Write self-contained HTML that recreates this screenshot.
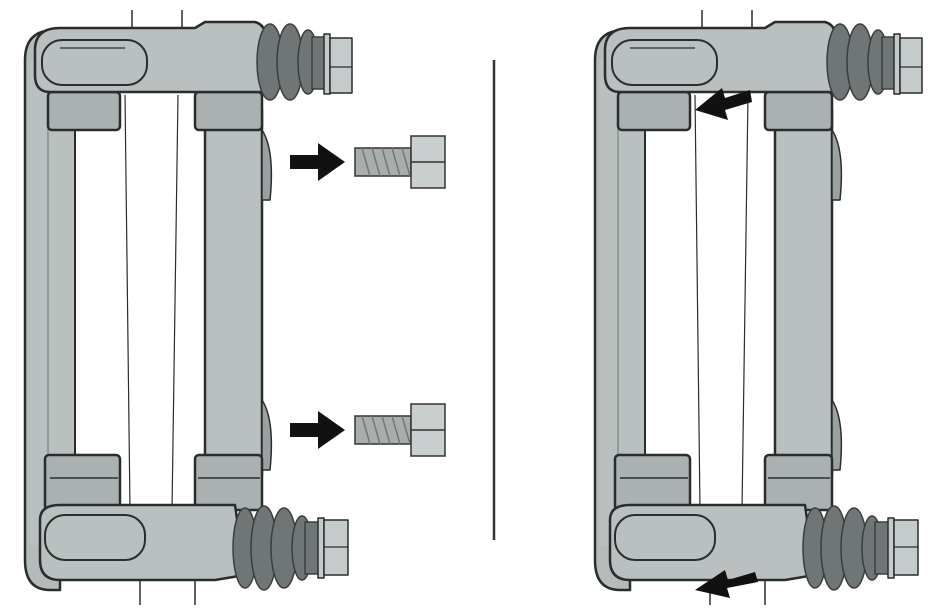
<!DOCTYPE html><html><head><style>body{margin:0;background:#fff}svg{display:block}</style></head><body>
<svg width="936" height="612" viewBox="0 0 936 612" xmlns="http://www.w3.org/2000/svg">
<defs>
<g id="br" stroke="#2a2d2d" stroke-width="2.5" stroke-linejoin="round">
<line x1="132" y1="10" x2="132" y2="30" stroke-width="1.5"/><line x1="182" y1="10" x2="182" y2="30" stroke-width="1.5"/>
<line x1="140" y1="580" x2="140" y2="605" stroke-width="1.5"/><line x1="195" y1="580" x2="195" y2="605" stroke-width="1.5"/>
<path d="M25 60 Q25 30 55 30 L60 30 L60 590 L50 590 Q25 590 25 560 Z" fill="#b4bbba"/>
<path d="M30 60 L75 60 L75 545 L30 545 Z" fill="#b9c0bf" stroke="none"/>
<line x1="75" y1="130" x2="75" y2="470" stroke-width="2"/>
<line x1="48" y1="110" x2="48" y2="470" stroke-width="1.2" stroke="#7a807f"/>
<line x1="125" y1="95" x2="130" y2="510" stroke-width="1.2"/><line x1="178" y1="95" x2="172" y2="510" stroke-width="1.2"/>
<rect x="205" y="110" width="57" height="365" fill="#b9c0bf"/>
<path d="M262 130 Q275 150 270 200 L262 200 Z" fill="#9aa1a0" stroke-width="1.5"/>
<path d="M262 400 Q275 420 270 470 L262 470 Z" fill="#9aa1a0" stroke-width="1.5"/>
<rect x="48" y="92" width="72" height="38" rx="4" fill="#aab1b0"/>
<rect x="195" y="92" width="67" height="38" rx="4" fill="#aab1b0"/>
<rect x="45" y="455" width="75" height="55" rx="4" fill="#aab1b0"/>
<rect x="195" y="455" width="67" height="55" rx="4" fill="#aab1b0"/>
<line x1="50" y1="478" x2="118" y2="478" stroke-width="1.5"/><line x1="198" y1="478" x2="260" y2="478" stroke-width="1.5"/>
<path d="M35 50 Q35 28 60 28 L195 28 L205 22 L255 22 Q265 25 265 35 L265 92 L50 92 Q35 92 35 75 Z" fill="#b9c0bf"/>
<rect x="42" y="40" width="105" height="45" rx="20" fill="#b9c0bf" stroke-width="2"/>
<line x1="60" y1="48" x2="125" y2="48" stroke-width="1.2"/>
<path d="M40 520 Q40 505 60 505 L235 505 L245 575 L215 580 L60 580 Q40 580 40 560 Z" fill="#b9c0bf"/>
<rect x="45" y="515" width="100" height="45" rx="20" fill="#b9c0bf" stroke-width="2"/>
<g fill="#6f7675" stroke="#3a3e3e" stroke-width="1.5">
<ellipse cx="270" cy="62" rx="13" ry="38"/><ellipse cx="290" cy="62" rx="13" ry="38"/><ellipse cx="308" cy="62" rx="10" ry="32"/><rect x="312" y="37" width="14" height="52"/>
<ellipse cx="245" cy="548" rx="12" ry="40"/><ellipse cx="264" cy="548" rx="13" ry="42"/><ellipse cx="284" cy="548" rx="13" ry="40"/><ellipse cx="302" cy="548" rx="10" ry="32"/><rect x="305" y="522" width="14" height="52"/>
</g>
<rect x="324" y="34" width="6" height="60" fill="#c5cbca" stroke-width="1.5"/>
<rect x="330" y="38" width="22" height="55" fill="#c5cbca" stroke-width="1.5"/><line x1="330" y1="67" x2="352" y2="67" stroke-width="1.2"/>
<rect x="318" y="518" width="6" height="60" fill="#c5cbca" stroke-width="1.5"/>
<rect x="324" y="520" width="24" height="55" fill="#c5cbca" stroke-width="1.5"/><line x1="324" y1="547" x2="348" y2="547" stroke-width="1.2"/>
</g>
<g id="bolt" stroke="#333" stroke-width="1.5">
<rect x="355" y="148" width="56" height="28" fill="#a8aeae"/>
<path d="M362 148 l8 28 M372 148 l8 28 M382 148 l8 28 M392 148 l8 28 M402 148 l8 28" stroke="#777"/>
<rect x="411" y="136" width="34" height="52" fill="#c9cfce"/><line x1="411" y1="162" x2="445" y2="162"/>
<path d="M290 155 L318 155 L318 143 L345 162 L318 181 L318 169 L290 169 Z" fill="#111" stroke="none"/>
</g>
</defs>
<use href="#br"/>
<use href="#br" x="570"/>
<use href="#bolt"/>
<use href="#bolt" y="268"/>
<line x1="494" y1="60" x2="494" y2="540" stroke="#333" stroke-width="2.5"/>
<path d="M750 90 L725 98 L722 88 L695 110 L728 120 L725 110 L752 102 Z" fill="#111"/>
<path d="M755 572 L728 580 L725 570 L695 590 L730 598 L727 588 L758 582 Z" fill="#111"/>
</svg>
</body></html>
